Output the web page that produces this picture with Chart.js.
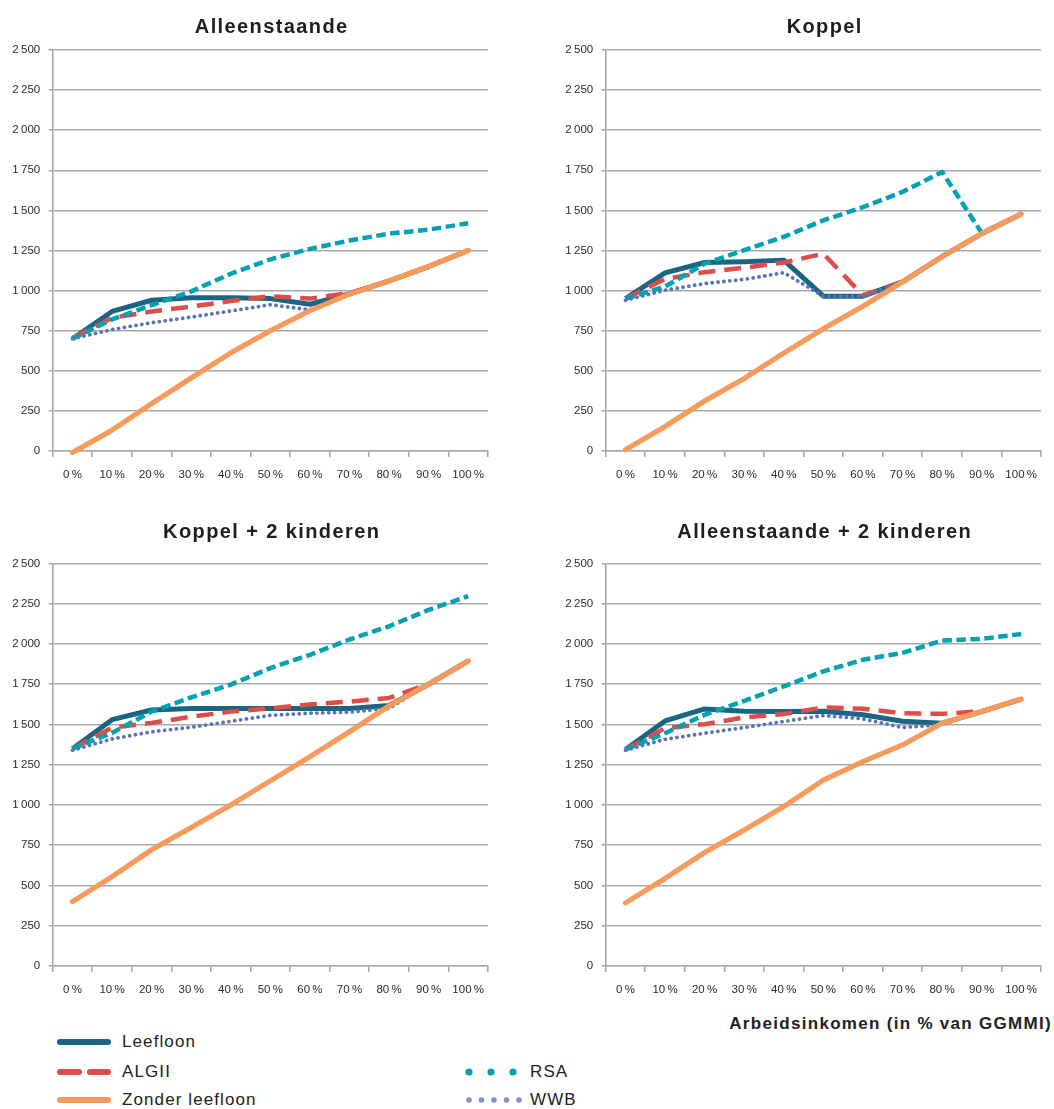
<!DOCTYPE html>
<html>
<head>
<meta charset="utf-8">
<script src="https://cdn.jsdelivr.net/npm/chart.js@4.4.1/dist/chart.umd.min.js"></script>
<style>
  html, body { margin: 0; padding: 0; background: #fff; }
  body { width: 1054px; height: 1109px; position: relative; overflow: hidden; font-family: "Liberation Sans", Arial, sans-serif; }
  .box { position: absolute; width: 500px; }
  .ttl { position: absolute; width: 435.3px; text-align: center; font-size: 20px; font-weight: bold; color: #1e1e1e; letter-spacing: 1.4px; padding-left: 1.4px; line-height: 24px; white-space: nowrap; }
  .leg { position: absolute; font-size: 17px; color: #222; letter-spacing: 1.1px; line-height: 20px; white-space: nowrap; }
  .sw { position: absolute; }
  #xcap { position: absolute; right: 2px; top: 1014px; font-size: 17px; font-weight: bold; color: #222; letter-spacing: 1.3px; white-space: nowrap; }
</style>
</head>
<body>
<div class="box" style="left:0;top:0;height:491px"><canvas id="c1"></canvas></div>
<div class="box" style="left:553px;top:0;height:491px"><canvas id="c2"></canvas></div>
<div class="box" style="left:0;top:514px;height:492px"><canvas id="c3"></canvas></div>
<div class="box" style="left:553px;top:514px;height:492px"><canvas id="c4"></canvas></div>

<div class="ttl" id="t1" style="left:52.7px;top:13.7px"></div>
<div class="ttl" id="t2" style="left:605.7px;top:13.7px"></div>
<div class="ttl" id="t3" style="left:52.7px;top:518.7px"></div>
<div class="ttl" id="t4" style="left:605.7px;top:518.7px"></div>

<div id="xcap">Arbeidsinkomen (in % van GGMMI)</div>

<svg class="sw" style="left:0;top:1030px" width="540" height="79">
  <line x1="60" y1="12" x2="108" y2="12" stroke="#1b6583" stroke-width="6" stroke-linecap="round"/>
  <line x1="60" y1="42" x2="79" y2="42" stroke="#de4d47" stroke-width="6" stroke-linecap="round"/>
  <line x1="90" y1="42" x2="108" y2="42" stroke="#de4d47" stroke-width="6" stroke-linecap="round"/>
  <line x1="60" y1="70" x2="108" y2="70" stroke="#f79a5b" stroke-width="6" stroke-linecap="round"/>
  <circle cx="469" cy="42" r="3.6" fill="#00a1b3"/>
  <circle cx="491" cy="42" r="3.6" fill="#00a1b3"/>
  <circle cx="513" cy="42" r="3.6" fill="#00a1b3"/>
  <circle cx="469" cy="70" r="2.8" fill="#8190cb"/>
  <circle cx="481.5" cy="70" r="2.8" fill="#8190cb"/>
  <circle cx="494" cy="70" r="2.8" fill="#8190cb"/>
  <circle cx="506.5" cy="70" r="2.8" fill="#8190cb"/>
  <circle cx="519" cy="70" r="2.8" fill="#8190cb"/>
</svg>
<div class="leg" style="left:122px;top:1032px">Leefloon</div>
<div class="leg" style="left:122px;top:1062px">ALGII</div>
<div class="leg" style="left:122px;top:1090px">Zonder leefloon</div>
<div class="leg" style="left:530px;top:1062px">RSA</div>
<div class="leg" style="left:530px;top:1090px">WWB</div>

<script>
// ---- data ----
const categories = ['0\u2009%', '10\u2009%', '20\u2009%', '30\u2009%', '40\u2009%', '50\u2009%', '60\u2009%', '70\u2009%', '80\u2009%', '90\u2009%', '100\u2009%'];
const yTicks = [0, 250, 500, 750, 1000, 1250, 1500, 1750, 2000, 2250, 2500];
const seriesNames = ['Leefloon', 'ALGII', 'Zonder leefloon', 'RSA', 'WWB'];
const chartTitles = ['Alleenstaande', 'Koppel', 'Koppel + 2 kinderen', 'Alleenstaande + 2 kinderen'];

// Alleenstaande
const alleenLeefloon = [700, 870, 940, 955, 955, 950, 915, 980, 1060, 1150, 1250];
const alleenALGII    = [705, 830, 870, 900, 935, 965, 950, 985, 1060, 1150, 1250];
const alleenZonder   = [-10, 130, 295, 455, 612, 750, 875, 978, 1060, 1152, 1250];
const alleenRSA      = [700, 820, 910, 995, 1105, 1195, 1260, 1312, 1355, 1380, 1420];
const alleenWWB      = [700, 757, 800, 835, 873, 912, 880, 980, 1060, 1150, 1250];

// Koppel
const koppelLeefloon = [950, 1110, 1175, 1180, 1190, 965, 965, 1055, 1212, 1355, 1478];
const koppelALGII    = [950, 1072, 1115, 1143, 1175, 1230, 970, 1055, 1212, 1355, 1478];
const koppelZonder   = [8, 153, 312, 452, 610, 762, 903, 1054, 1212, 1355, 1478];
const koppelRSA      = [950, 1025, 1168, 1252, 1335, 1438, 1520, 1615, 1740, 1360, 1478];
const koppelWWB      = [940, 1002, 1044, 1070, 1112, 965, 965, 1055, 1212, 1355, 1478];

// Koppel + 2 kinderen
const koppelKindLeefloon = [1350, 1530, 1590, 1600, 1600, 1600, 1600, 1600, 1618, 1750, 1895];
const koppelKindALGII    = [1350, 1480, 1510, 1548, 1580, 1600, 1625, 1642, 1665, 1752, 1895];
const koppelKindZonder   = [400, 555, 722, 860, 1000, 1150, 1300, 1455, 1615, 1750, 1895];
const koppelKindRSA      = [1350, 1448, 1580, 1668, 1748, 1850, 1933, 2028, 2110, 2212, 2297];
const koppelKindWWB      = [1340, 1410, 1455, 1483, 1520, 1557, 1570, 1577, 1600, 1750, 1895];

// Alleenstaande + 2 kinderen
const alleenKindLeefloon = [1345, 1522, 1597, 1582, 1580, 1582, 1560, 1520, 1508, 1580, 1658];
const alleenKindALGII    = [1345, 1477, 1502, 1544, 1565, 1606, 1598, 1570, 1566, 1582, 1658];
const alleenKindZonder   = [392, 544, 705, 845, 990, 1155, 1270, 1373, 1508, 1580, 1658];
const alleenKindRSA      = [1345, 1446, 1560, 1647, 1737, 1830, 1902, 1945, 2021, 2032, 2062];
const alleenKindWWB      = [1340, 1408, 1446, 1481, 1519, 1556, 1535, 1481, 1500, 1580, 1658];

// ---- styles ----
const GRID = '#a9a9ad';
const FONT = '"Liberation Sans", Arial, sans-serif';

const styles = {
  'Leefloon':        { borderColor: '#1b6583', borderWidth: 5,   borderDash: [],         order: 4, borderCapStyle: 'butt' },
  'ALGII':           { borderColor: '#de4d47', borderWidth: 4.5, borderDash: [17, 9],    order: 3, borderCapStyle: 'butt' },
  'Zonder leefloon': { borderColor: '#f79a5b', borderWidth: 5.2, borderDash: [],         order: 0, borderCapStyle: 'round' },
  'RSA':             { borderColor: '#00a1b3', borderWidth: 4.5, borderDash: [9.5, 4.5], order: 2, borderCapStyle: 'butt' },
  'WWB':             { borderColor: '#5a72b8', borderWidth: 3.8, borderDash: [0.1, 5.8], order: 1, borderCapStyle: 'round' }
};

function makeChart(id, titleId, title, topPad, sets) {
  document.getElementById(titleId).textContent = title;
  const datasets = seriesNames.map((name, i) => Object.assign({
    label: name,
    data: sets[i],
    pointRadius: 0,
    pointHoverRadius: 0,
    tension: 0,
    fill: false,
    clip: false,
    borderJoinStyle: 'round'
  }, styles[name]));

  new Chart(document.getElementById(id), {
    type: 'line',
    data: { labels: categories, datasets },
    options: {
      responsive: true,
      maintainAspectRatio: false,
      animation: false,
      events: [],
      layout: { padding: { left: 0, right: 12, top: topPad, bottom: 0 } },
      plugins: {
        legend: { display: false },
        tooltip: { enabled: false },
        title: { display: false }
      },
      scales: {
        x: {
          type: 'category',
          offset: true,
          grid: { offset: true, drawOnChartArea: false, drawTicks: true, tickLength: 6, color: GRID, lineWidth: 1.6 },
          border: { color: GRID, width: 1.6 },
          ticks: { color: '#2c2c2c', font: { family: FONT, size: 11.5 }, padding: 11.2, maxRotation: 0, autoSkip: false },
          afterFit: (s) => { s.height = 40; }
        },
        y: {
          min: 0,
          max: 2500,
          afterBuildTicks: (s) => { s.ticks = yTicks.map(v => ({ value: v })); },
          grid: { color: GRID, lineWidth: 1.6, tickLength: 4, drawTicks: true },
          border: { color: GRID, width: 1.6 },
          ticks: {
            color: '#2c2c2c',
            font: { family: FONT, size: 11.5 },
            padding: 8.5,
            callback: (v) => v >= 1000 ? String(Math.floor(v / 1000)) + '\u2009' + String(v % 1000).padStart(3, '0') : String(v)
          },
          afterFit: (s) => { s.width = 52.7; }
        }
      }
    }
  });
}

makeChart('c1', 't1', chartTitles[0], 50, [alleenLeefloon, alleenALGII, alleenZonder, alleenRSA, alleenWWB]);
makeChart('c2', 't2', chartTitles[1], 50, [koppelLeefloon, koppelALGII, koppelZonder, koppelRSA, koppelWWB]);
makeChart('c3', 't3', chartTitles[2], 49.5, [koppelKindLeefloon, koppelKindALGII, koppelKindZonder, koppelKindRSA, koppelKindWWB]);
makeChart('c4', 't4', chartTitles[3], 49.5, [alleenKindLeefloon, alleenKindALGII, alleenKindZonder, alleenKindRSA, alleenKindWWB]);
</script>
</body>
</html>
